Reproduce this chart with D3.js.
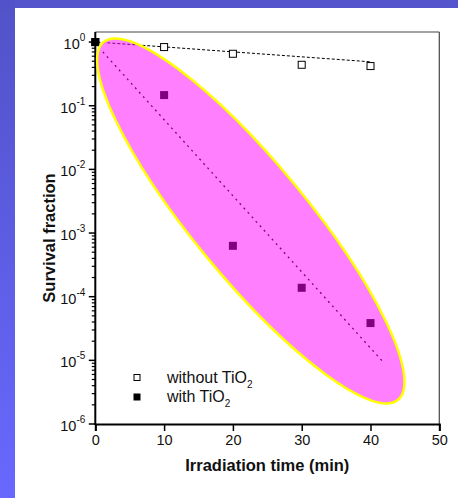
<!DOCTYPE html>
<html>
<head>
<meta charset="utf-8">
<script src="https://cdnjs.cloudflare.com/ajax/libs/d3/7.8.5/d3.min.js"></script>
<style>
  body { margin: 0; padding: 0; background: #ffffff; }
  svg { display: block; font-family: "Liberation Sans", Arial, sans-serif; }
</style>
</head>
<body>
<div id="content"></div>
<script>
// data
const times = [0, 10, 20, 30, 40];
const withoutTiO2 = [1.0, 0.835, 0.655, 0.44, 0.42];
const withTiO2 = [1.0, 0.147, 6.3e-4, 1.38e-4, 3.85e-5];
const fitWithoutX = [0.3, 40];
const fitWithoutY = [1.0, 0.49];
const fitWithX = [1.1, 42];
const fitWithY = [0.7, 9.0e-6];
const ellipseTipX = [1.2, 44];
const ellipseTipY = [1.0, 2.4e-6];
const xTicks = [0, 10, 20, 30, 40, 50];
const yExponents = [0, -1, -2, -3, -4, -5, -6];
const legendLabels = ["without TiO", "with TiO"];

const W = 458, H = 498;
const margin = {top: 32, right: 18.7, bottom: 74, left: 95.3};

const svg = d3.select("#content")
    .append("svg")
    .attr("width", W)
    .attr("height", H);

// blue frame of the slide
const grad = svg.append("defs").append("linearGradient")
    .attr("id", "side")
    .attr("x1", 0).attr("y1", 0).attr("x2", 0).attr("y2", 1);
grad.append("stop").attr("offset", "0%").attr("stop-color", "#5252c8");
grad.append("stop").attr("offset", "100%").attr("stop-color", "#6868ff");

svg.append("rect").attr("x", 0).attr("y", 0).attr("width", W).attr("height", 8)
    .attr("fill", "#5454cc");
svg.append("rect").attr("x", 0).attr("y", 0).attr("width", 15).attr("height", H)
    .attr("fill", "url(#side)");

let x = d3.scaleLinear()
    .domain([0, 50])
    .range([margin.left, W - margin.right]);

let y = d3.scaleLog()
    .domain([1e-6, 1.44])
    .range([H - margin.bottom, margin.top]);

const x0 = x.range()[0], x1 = x.range()[1];
const yb = y.range()[0], yt = y.range()[1];

// box: top and right lines thin
svg.append("line").attr("x1", x0).attr("x2", x1).attr("y1", yt).attr("y2", yt)
    .attr("stroke", "#444").attr("stroke-width", 1.2);
svg.append("line").attr("x1", x1).attr("x2", x1).attr("y1", yt).attr("y2", yb)
    .attr("stroke", "#444").attr("stroke-width", 1.2);

// x axis
let xAxis = d3.axisBottom(x)
    .tickValues(xTicks)
    .tickSize(7)
    .tickPadding(4)
    .tickFormat(d3.format("d"));

let gx = svg.append("g")
    .attr("transform", "translate(0," + yb + ")")
    .call(xAxis);
gx.select(".domain").attr("stroke", "#000").attr("stroke-width", 2);
gx.selectAll(".tick line").attr("stroke", "#000").attr("stroke-width", 1.5);
gx.selectAll(".tick text")
    .attr("font-size", "14.5px")
    .attr("fill", "#111")
    .attr("font-family", "Liberation Sans, Arial, sans-serif");

// y axis with minor ticks
let minor = [];
yExponents.forEach(e => {
    if (e === 0) return;
    for (let k = 2; k <= 9; k++) minor.push(k * Math.pow(10, e));
});

let gy = svg.append("g").attr("transform", "translate(" + x0 + ",0)");
gy.selectAll(".minor")
    .data(minor)
    .enter().append("line")
    .attr("x1", -3.5).attr("x2", 0)
    .attr("y1", d => y(d)).attr("y2", d => y(d))
    .attr("stroke", "#000").attr("stroke-width", 1.2);
gy.selectAll(".major")
    .data(yExponents)
    .enter().append("line")
    .attr("x1", -6.5).attr("x2", 0)
    .attr("y1", d => y(Math.pow(10, d))).attr("y2", d => y(Math.pow(10, d)))
    .attr("stroke", "#000").attr("stroke-width", 1.5);
gy.append("line")
    .attr("x1", 0).attr("x2", 0).attr("y1", yt).attr("y2", yb + 1)
    .attr("stroke", "#000").attr("stroke-width", 2);

let ylab = gy.selectAll(".ylab")
    .data(yExponents)
    .enter().append("text")
    .attr("x", -10)
    .attr("y", d => y(Math.pow(10, d)) + 7)
    .attr("text-anchor", "end")
    .attr("font-size", "14.5px")
    .attr("fill", "#111");
ylab.append("tspan").text("10");
ylab.append("tspan")
    .attr("dy", -8)
    .attr("font-size", "10px")
    .text(d => d);

// fit lines
const line = d3.line()
    .x(d => x(d[0]))
    .y(d => y(d[1]));

svg.append("path")
    .datum(d3.zip(fitWithoutX, fitWithoutY))
    .attr("d", line)
    .attr("fill", "none")
    .attr("stroke", "#000")
    .attr("stroke-width", 1)
    .attr("stroke-dasharray", "3,2");

svg.append("path")
    .datum(d3.zip(fitWithX, fitWithY))
    .attr("d", line)
    .attr("fill", "none")
    .attr("stroke", "#000")
    .attr("stroke-width", 1.3)
    .attr("stroke-dasharray", "2,4");

// points
const sq = 7;
svg.selectAll(".open")
    .data(d3.zip(times, withoutTiO2))
    .enter().append("rect")
    .attr("x", d => x(d[0]) - sq / 2)
    .attr("y", d => y(d[1]) - sq / 2)
    .attr("width", sq).attr("height", sq)
    .attr("fill", "#fff")
    .attr("stroke", "#000")
    .attr("stroke-width", 1);

svg.selectAll(".filled")
    .data(d3.zip(times, withTiO2))
    .enter().append("rect")
    .attr("x", d => x(d[0]) - (sq + 1) / 2)
    .attr("y", d => y(d[1]) - (sq + 1) / 2)
    .attr("width", sq + 1).attr("height", sq + 1)
    .attr("fill", "#000");

// highlight ellipse, drawn on top with transparency
const p1 = [x(ellipseTipX[0]), y(ellipseTipY[0])];
const p2 = [x(ellipseTipX[1]), y(ellipseTipY[1])];
const cx = (p1[0] + p2[0]) / 2, cy = (p1[1] + p2[1]) / 2;
const semiMajor = Math.hypot(p2[0] - p1[0], p2[1] - p1[1]) / 2;
const angle = Math.atan2(p2[1] - p1[1], p2[0] - p1[0]) * 180 / Math.PI;

svg.append("ellipse")
    .attr("transform", "translate(" + cx + "," + cy + ") rotate(" + angle + ")")
    .attr("rx", semiMajor)
    .attr("ry", 57)
    .attr("fill", "#ff00ff")
    .attr("fill-opacity", 0.5)
    .attr("stroke", "#ffff00")
    .attr("stroke-width", 2.5);

// legend
const legend = svg.append("g").attr("transform", "translate(137,378)");
legend.selectAll("rect")
    .data(legendLabels)
    .enter().append("rect")
    .attr("x", (d, i) => i === 0 ? -3 : -3.5)
    .attr("y", (d, i) => i * 19 - 3.5)
    .attr("width", (d, i) => i === 0 ? 6 : 7)
    .attr("height", (d, i) => i === 0 ? 6 : 7)
    .attr("fill", (d, i) => i === 0 ? "#fff" : "#000")
    .attr("stroke", (d, i) => i === 0 ? "#000" : "none")
    .attr("stroke-width", 1);

let lt = legend.selectAll("text")
    .data(legendLabels)
    .enter().append("text")
    .attr("x", 30)
    .attr("y", (d, i) => i * 19 + 5)
    .attr("font-size", "16px")
    .attr("fill", "#111");
lt.append("tspan").text(d => d);
lt.append("tspan").attr("dy", 5).attr("font-size", "10px").text("2");

// axis titles
svg.append("text")
    .attr("x", (x0 + x1) / 2)
    .attr("y", 471)
    .attr("text-anchor", "middle")
    .attr("font-size", "16.5px")
    .attr("font-weight", "bold")
    .attr("fill", "#111")
    .text("Irradiation time (min)");

svg.append("text")
    .attr("transform", "translate(55,238) rotate(-90)")
    .attr("text-anchor", "middle")
    .attr("font-size", "16.5px")
    .attr("font-weight", "bold")
    .attr("fill", "#111")
    .text("Survival fraction");
</script>
</body>
</html>
